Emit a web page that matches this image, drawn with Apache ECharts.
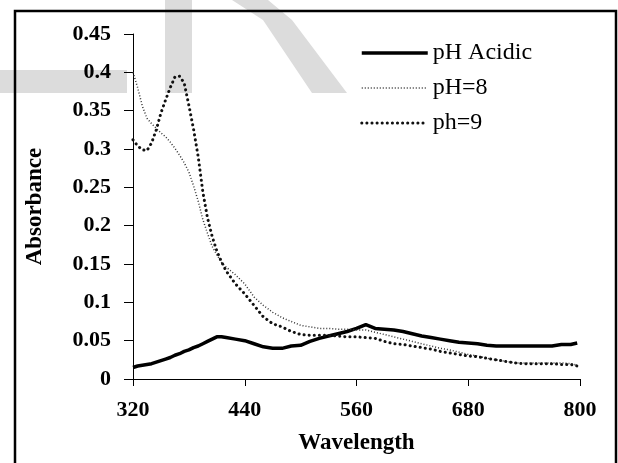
<!DOCTYPE html>
<html>
<head>
<meta charset="utf-8">
<script src="https://cdn.jsdelivr.net/npm/echarts@6/dist/echarts.min.js"></script>
<style>
  html, body { margin: 0; padding: 0; background: #fff; }
  #chart { width: 618px; height: 463px; }
</style>
</head>
<body>
<div id="chart"></div>
<script>
// wavelength (nm)
var wavelength = [320, 325, 330, 335, 340, 345, 350, 355, 360, 365, 370, 375, 380, 385, 390, 395, 400, 405, 410, 415, 420,
  430, 440, 450, 460, 470, 480, 490, 500, 510, 520, 530, 540, 550, 560, 570, 580, 590, 600, 610, 620, 630, 640, 650, 660,
  670, 680, 690, 700, 710, 720, 730, 740, 750, 760, 770, 780, 790, 797];

var acidic = [0.015, 0.017, 0.018, 0.019, 0.020, 0.022, 0.024, 0.026, 0.028, 0.031, 0.033, 0.036, 0.038, 0.041, 0.043, 0.046, 0.049, 0.052, 0.055, 0.055, 0.054,
  0.052, 0.050, 0.046, 0.042, 0.040, 0.040, 0.043, 0.044, 0.049, 0.053, 0.056, 0.059, 0.062, 0.066, 0.071, 0.066, 0.065, 0.064, 0.062, 0.059, 0.056, 0.054, 0.052, 0.050,
  0.048, 0.047, 0.046, 0.044, 0.043, 0.043, 0.043, 0.043, 0.043, 0.043, 0.043, 0.045, 0.045, 0.047];

var ph8 = [0.400, 0.380, 0.356, 0.340, 0.333, 0.327, 0.321, 0.316, 0.309, 0.301, 0.292, 0.282, 0.270, 0.252, 0.232, 0.208, 0.190, 0.173, 0.162, 0.152, 0.146,
  0.136, 0.124, 0.107, 0.096, 0.087, 0.080, 0.075, 0.070, 0.068, 0.066, 0.066, 0.065, 0.065, 0.064, 0.064, 0.061, 0.058, 0.055, 0.052, 0.049, 0.046, 0.043, 0.040, 0.038,
  0.035, 0.032, 0.030, 0.027, 0.025, 0.023, 0.021, 0.021, 0.021, 0.021, 0.021, 0.021, 0.020, 0.018];

var ph9 = [0.312, 0.304, 0.299, 0.298, 0.308, 0.325, 0.347, 0.364, 0.380, 0.394, 0.395, 0.386, 0.357, 0.326, 0.290, 0.244, 0.210, 0.186, 0.167, 0.153, 0.141,
  0.124, 0.111, 0.096, 0.081, 0.072, 0.068, 0.062, 0.058, 0.057, 0.057, 0.057, 0.056, 0.055, 0.055, 0.054, 0.053, 0.049, 0.046, 0.045, 0.043, 0.041, 0.039, 0.036, 0.034,
  0.032, 0.030, 0.029, 0.027, 0.025, 0.023, 0.021, 0.020, 0.020, 0.020, 0.020, 0.019, 0.019, 0.017];

var seriesNames = ['pH Acidic', 'pH=8', 'ph=9'];

function pairs(vals) {
  return wavelength.map(function (w, i) { return [w, vals[i]]; });
}

var serif = '"Liberation Serif", "DejaVu Serif", serif';
var grey = '#dcdcdc';

var chart = echarts.init(document.getElementById('chart'));
chart.setOption({
  backgroundColor: '#fff',
  animation: false,
  graphic: [
    // faint watermark letters at the top, behind everything
    { type: 'rect', z: -10, shape: { x: 0, y: 70, width: 127, height: 23 }, style: { fill: grey } },
    { type: 'rect', z: -10, shape: { x: 165, y: 0, width: 27, height: 93 }, style: { fill: grey } },
    { type: 'polygon', z: -10, shape: { points: [[232, 0], [268, 0], [292, 20], [347, 93], [312, 93], [263, 20]] }, style: { fill: grey } },
    // outer frame
    { type: 'rect', z: 10, shape: { x: 15, y: 11, width: 601, height: 470 }, style: { fill: null, stroke: '#000', lineWidth: 2.5 } }
  ],
  grid: { left: 133, right: 38, top: 34, bottom: 84 },
  legend: {
    orient: 'vertical',
    left: 360,
    top: 41,
    padding: 0,
    itemWidth: 66,
    itemHeight: 14,
    itemGap: 11,
    itemStyle: { opacity: 0 },
    lineStyle: { width: 'inherit', type: 'inherit' },
    textStyle: { fontFamily: serif, fontSize: 24, color: '#000', lineHeight: 24 },
    data: seriesNames
  },
  xAxis: {
    type: 'value',
    min: 320,
    max: 800,
    interval: 120,
    name: 'Wavelength',
    nameLocation: 'middle',
    nameGap: 53,
    nameTextStyle: { fontFamily: serif, fontSize: 23, fontWeight: 'bold', color: '#000' },
    axisLine: { lineStyle: { color: '#000', width: 1 } },
    axisTick: { length: 7, lineStyle: { color: '#000' } },
    axisLabel: { margin: 20, fontFamily: serif, fontSize: 22, fontWeight: 'bold', color: '#000' },
    splitLine: { show: false }
  },
  yAxis: {
    type: 'value',
    min: 0,
    max: 0.45,
    interval: 0.05,
    name: 'Absorbance',
    nameLocation: 'middle',
    nameGap: 86,
    nameTextStyle: { fontFamily: serif, fontSize: 23, fontWeight: 'bold', color: '#000' },
    axisLine: { show: true, lineStyle: { color: '#000', width: 1 } },
    axisTick: { show: true, length: 9, lineStyle: { color: '#000' } },
    axisLabel: { margin: 22, fontFamily: serif, fontSize: 22, fontWeight: 'bold', color: '#000' },
    splitLine: { show: false }
  },
  series: [
    {
      name: seriesNames[0],
      type: 'line',
      symbol: 'none',
      data: pairs(acidic),
      itemStyle: { color: '#000' },
      lineStyle: { color: '#000', width: 3.5 }
    },
    {
      name: seriesNames[1],
      type: 'line',
      symbol: 'none',
      data: pairs(ph8),
      itemStyle: { color: '#333' },
      lineStyle: { color: '#333', width: 1.5, type: [1, 2] }
    },
    {
      name: seriesNames[2],
      type: 'line',
      symbol: 'none',
      data: pairs(ph9),
      itemStyle: { color: '#111' },
      lineStyle: { color: '#111', width: 3, type: [0.1, 5], cap: 'round' }
    }
  ]
});
</script>
</body>
</html>
